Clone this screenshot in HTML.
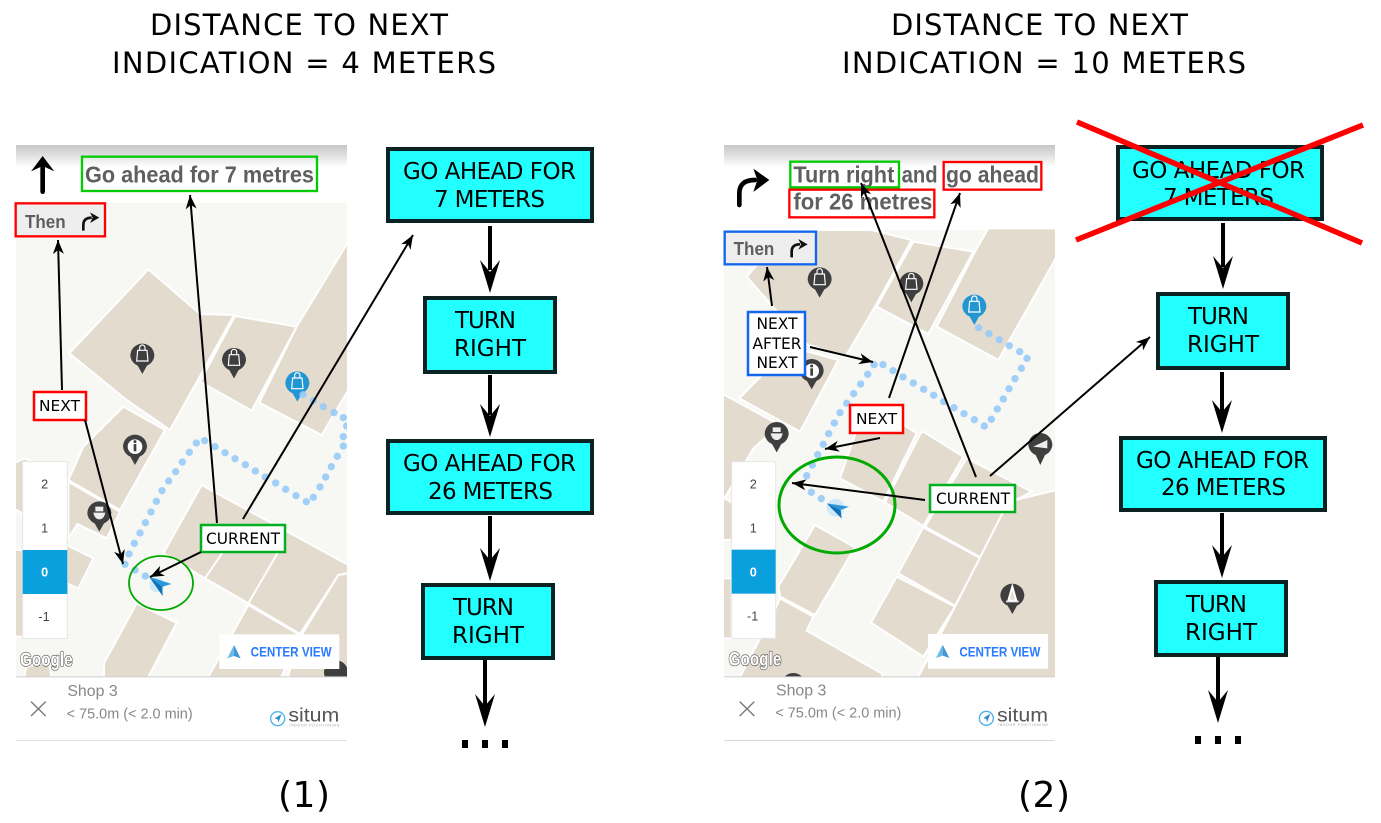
<!DOCTYPE html>
<html><head><meta charset="utf-8"><style>
html,body{margin:0;padding:0;background:#fff}
svg{display:block}
.t{font-family:"DejaVu Sans",sans-serif;fill:#000}
.r{font-family:"Liberation Sans",sans-serif}
.b{fill:#22ffff;stroke:#0a2222;stroke-width:4}
.p polygon{fill:#e3dbce;stroke:#fff;stroke-width:6}
.h{font-family:"Liberation Sans",sans-serif;font-weight:bold;fill:#5f5f5f;font-size:68px}
.d circle{r:11px;fill:#96caf7;opacity:.9}
.a{stroke:#000;stroke-width:2;fill:none;marker-end:url(#m)}
</style></head><body>
<svg width="1381" height="823" viewBox="0 0 1381 823" xmlns="http://www.w3.org/2000/svg">
<defs>
<marker id="m" markerUnits="userSpaceOnUse" markerWidth="20" markerHeight="20" refX="16" refY="10" orient="auto"><path d="M16,10 L2,4.5 L6,10 L2,15.5 Z" fill="#000"/></marker>
<linearGradient id="g" x1="0" y1="0" x2="0" y2="1"><stop offset="0" stop-color="#c6c6c6"/><stop offset="1" stop-color="#fff"/></linearGradient>
<clipPath id="c1"><rect x="16" y="145" width="331" height="532"/></clipPath>
<clipPath id="c2"><rect x="724" y="145" width="331" height="532"/></clipPath>
<g id="pinb"><path d="M-36,0 A36,36 0 1 1 36,0 A36,36 0 0 1 14,30 L0,55 L-14,30 A36,36 0 0 1 -36,0Z"/><path d="M-14,-16 H14 L17,16 H-17Z M-8,-16 V-24 A8,8 0 0 1 8,-24 V-16" fill="none" stroke="#fff" stroke-width="3.5"/></g>
<g id="pini"><path d="M-36,0 A36,36 0 1 1 36,0 A36,36 0 0 1 14,30 L0,55 L-14,30 A36,36 0 0 1 -36,0Z" fill="#3f3f3f"/><circle r="22" fill="#fff"/><rect x="-4" y="-8" width="8" height="22" fill="#3f3f3f"/><circle cy="-15" r="4.5" fill="#3f3f3f"/></g>
<g id="pint"><path d="M-36,0 A36,36 0 1 1 36,0 A36,36 0 0 1 14,30 L0,55 L-14,30 A36,36 0 0 1 -36,0Z" fill="#3f3f3f"/><path d="M-12,-20 H12 V-6 H-12Z M-18,-2 H18 Q14,18 0,18 Q-14,18 -18,-2Z" fill="#eee"/></g>
</defs>
<rect width="1381" height="823" fill="#fff"/>

<!-- titles -->
<text class="t" x="150" y="35" font-size="29" textLength="298">DISTANCE TO NEXT</text>
<text class="t" x="112" y="73" font-size="29" textLength="384">INDICATION = 4 METERS</text>
<text class="t" x="891" y="35" font-size="29" textLength="297">DISTANCE TO NEXT</text>
<text class="t" x="842" y="73" font-size="29" textLength="404">INDICATION = 10 METERS</text>
<text class="t" x="278" y="807" font-size="36" textLength="52">(1)</text>
<text class="t" x="1018" y="807" font-size="36" textLength="52">(2)</text>

<!-- LEFT PHONE -->
<rect x="16" y="145" width="331" height="596" fill="#fff"/>
<rect x="16" y="145" width="331" height="22" fill="url(#g)"/>
<rect x="16" y="203" width="331" height="474" fill="#f7f7f4"/>
<g clip-path="url(#c1)">
<g class="p" transform="translate(0,130) scale(.33333)">
<polygon points="445,418 208,670 380,810 510,900 702,555 600,552"/>
<polygon points="705,558 890,590 755,842 600,755"/>
<polygon points="1045,335 890,590 778,818 965,915 1045,780"/>
</g>
<g class="p" transform="translate(0,440) scale(.33333)">
<polygon points="370,-100 495,-30 360,210 205,120 250,20"/>
<polygon points="205,125 360,215 320,295 232,252 205,295"/>
<polygon points="200,315 280,355 235,445 200,430"/>
<polygon points="40,70 75,55 205,125 205,295 40,205"/>
<polygon points="40,330 70,330 70,590 40,590"/>
<polygon points="605,135 1045,375 1045,400 1015,405 900,582 745,490 615,415 490,340"/>
<polygon points="700,290 835,335 745,490 615,415"/>
<polygon points="745,495 900,585 840,720 620,720"/>
<polygon points="1015,405 1045,400 1045,720 860,720 905,585"/>
<polygon points="410,490 530,548 440,720 312,720 312,670"/>
<polygon points="70,720 80,680 120,670 150,680 155,720"/>
<use href="#pini" x="405" y="20"/>
<use href="#pint" x="298" y="220"/>
<circle cx="1008" cy="697" r="36" fill="#3f3f3f" stroke="none"/>
</g>
<g transform="translate(0,130) scale(.33333)">
<use href="#pinb" x="427" y="677" fill="#3f3f3f"/>
<use href="#pinb" x="702" y="690" fill="#3f3f3f"/>
<use href="#pinb" x="892" y="760" fill="#2196d3"/>
</g>
<g class="d" transform="translate(0,440) scale(.33333)">
<circle cx="375" cy="373"/><circle cx="387" cy="342"/><circle cx="403" cy="310"/><circle cx="420" cy="279"/><circle cx="436" cy="248"/><circle cx="453" cy="216"/><circle cx="469" cy="184"/><circle cx="486" cy="152"/><circle cx="506" cy="123"/><circle cx="527" cy="95"/><circle cx="547" cy="66"/><circle cx="568" cy="37"/><circle cx="589" cy="9"/><circle cx="614" cy="2"/><circle cx="645" cy="20"/><circle cx="675" cy="38"/><circle cx="705" cy="56"/><circle cx="736" cy="74"/><circle cx="766" cy="93"/><circle cx="796" cy="111"/><circle cx="827" cy="129"/><circle cx="857" cy="148"/><circle cx="888" cy="167"/><circle cx="919" cy="185"/><circle cx="940" cy="172"/><circle cx="960" cy="141"/><circle cx="977" cy="111"/><circle cx="994" cy="80"/><circle cx="1012" cy="49"/><circle cx="1030" cy="18"/><circle cx="1030" cy="-10"/><circle cx="1040" cy="-42"/><circle cx="1030" cy="-67"/><circle cx="1002" cy="-82"/><circle cx="970" cy="-100"/><circle cx="940" cy="-118"/><circle cx="909" cy="-136"/><circle cx="405" cy="390"/><circle cx="436" cy="408"/>
</g>
<g transform="translate(0,440) scale(.33333)">
<circle cx="470" cy="435" r="22" fill="#cfe9f8"/>
<polygon points="447,410 515,432 487,440" fill="#2a97dc"/>
<polygon points="447,410 487,440 488,468" fill="#1172b8"/>
</g>
</g>
<g transform="translate(0,440) scale(.33333)">
<!-- floors -->
<rect x="68" y="65" width="134" height="530" fill="#fff" stroke="#e6e6e6" stroke-width="3"/>
<rect x="68" y="330" width="134" height="132" fill="#0aa0de"/>
<g class="r" font-size="38" text-anchor="middle" fill="#444"><text x="134" y="146">2</text><text x="134" y="278">1</text><text x="134" y="410" fill="#fff" font-weight="bold">0</text><text x="132" y="543">-1</text></g>
<!-- center view -->
<rect x="658" y="583" width="360" height="104" fill="#fff"/>
<polygon points="702,615 682,655 702,648" fill="#6fb9e6"/><polygon points="702,615 722,655 702,648" fill="#3f97d6"/>
<text class="r" x="752" y="650" font-size="41" font-weight="bold" fill="#2a7bff" textLength="243" lengthAdjust="spacingAndGlyphs">CENTER VIEW</text>
<!-- google -->
<text class="r" x="60" y="678" font-size="58" font-weight="bold" fill="#fff" stroke="#555" stroke-width="4" paint-order="stroke" textLength="158" lengthAdjust="spacingAndGlyphs">Google</text>
<!-- footer -->
<rect x="48" y="709" width="992" height="3" fill="#cfcfcf"/>
<text class="r" x="202" y="768" font-size="48" fill="#888" textLength="151" lengthAdjust="spacingAndGlyphs">Shop 3</text>
<text class="r" x="200" y="835" font-size="44" fill="#888" textLength="378" lengthAdjust="spacingAndGlyphs">&lt; 75.0m (&lt; 2.0 min)</text>
<path d="M93,785 L137,828 M137,785 L93,828" stroke="#777" stroke-width="4" fill="none"/>
<circle cx="833" cy="836" r="21" fill="none" stroke="#4db3e8" stroke-width="4"/><polygon points="845,822 824,835 833,838 835,848" fill="#2b8fcf"/>
<text class="r" x="865" y="845" font-size="58" fill="#555" textLength="153" lengthAdjust="spacingAndGlyphs">situm</text>
<text class="r" x="868" y="859" font-size="10" fill="#999" textLength="150">INDOOR POSITIONING</text>
<rect x="48" y="900" width="992" height="3" fill="#e0e0e0"/>
</g>
<g transform="translate(0,130) scale(.33333)">
<path d="M128,185 V100" stroke="#000" stroke-width="14" stroke-linecap="round"/>
<polygon points="93,124 128,78 163,124 128,108" fill="#000"/>
<text class="h" x="255" y="157" textLength="687" lengthAdjust="spacingAndGlyphs">Go ahead for 7 metres</text>
<rect x="246" y="80" width="705" height="103" fill="none" stroke="#00cc00" stroke-width="7"/>
<rect x="47" y="220" width="268" height="99" fill="#eeeeee" stroke="#ff0000" stroke-width="7"/>
<text class="h" x="75" y="294" textLength="122" lengthAdjust="spacingAndGlyphs" style="font-size:56px">Then</text>
<path d="M250,302 V285 Q250,263 275,263" stroke="#111" stroke-width="8" fill="none"/>
<polygon points="270,247 298,263 270,279 278,263" fill="#111"/>
</g>
<!-- left labels -->
<rect x="34" y="392" width="52" height="28" fill="#fff" stroke="#ff0000" stroke-width="2.5"/>
<text class="t" x="39" y="411" font-size="15.5" textLength="41" lengthAdjust="spacingAndGlyphs">NEXT</text>
<rect x="201" y="525" width="84" height="27" fill="#fff" stroke="#00b020" stroke-width="2.5"/>
<text class="t" x="206" y="544" font-size="16" textLength="74" lengthAdjust="spacingAndGlyphs">CURRENT</text>
<ellipse cx="161" cy="583" rx="32" ry="27" fill="none" stroke="#00aa00" stroke-width="1.8"/>
<path class="a" d="M62,390 L58,240"/>
<path class="a" d="M85,420 L123,564"/>
<path class="a" d="M217,523 L190,195"/>
<path class="a" d="M243,519 L413,235"/>
<path class="a" d="M201,552 L150,577"/>

<!-- left flow -->
<rect class="b" x="388" y="149" width="204" height="72"/>
<text class="t" x="403" y="179" font-size="23" textLength="173">GO AHEAD FOR</text>
<text class="t" x="434" y="207" font-size="23" textLength="111">7 METERS</text>
<rect class="b" x="425" y="298" width="130" height="74"/>
<text class="t" x="455" y="328" font-size="23" textLength="61">TURN</text>
<text class="t" x="454" y="356" font-size="23" textLength="72">RIGHT</text>
<rect class="b" x="388" y="441" width="204" height="72"/>
<text class="t" x="403" y="471" font-size="23" textLength="173">GO AHEAD FOR</text>
<text class="t" x="428" y="499" font-size="23" textLength="125">26 METERS</text>
<rect class="b" x="423" y="585" width="130" height="73"/>
<text class="t" x="453" y="615" font-size="23" textLength="61">TURN</text>
<text class="t" x="452" y="643" font-size="23" textLength="72">RIGHT</text>
<g fill="#000">
<rect x="488" y="226" width="4" height="44"/><polygon points="490,293 480,260 490,272 500,260"/>
<rect x="488" y="375" width="4" height="40"/><polygon points="490,437 480,404 490,416 500,404"/>
<rect x="488" y="516" width="4" height="44"/><polygon points="490,581 480,548 490,560 500,548"/>
<rect x="483" y="660" width="4" height="46"/><polygon points="485,727 475,694 485,706 495,694"/>
<rect x="462" y="740" width="6" height="8"/><rect x="482" y="740" width="6" height="8"/><rect x="502" y="740" width="6" height="8"/>
</g>

<!-- RIGHT PHONE -->
<rect x="724" y="145" width="331" height="596" fill="#fff"/>
<rect x="724" y="145" width="331" height="22" fill="url(#g)"/>
<rect x="724" y="230" width="331" height="447" fill="#f7f7f4"/>
<g clip-path="url(#c2)">
<g class="p" transform="translate(710,130) scale(.33333)">
<polygon points="485,300 605,330 495,530 405,682 285,640 110,440 230,300"/>
<polygon points="610,335 790,365 655,612 500,530"/>
<polygon points="835,295 1040,295 1040,380 865,690 680,590 795,365"/>
<polygon points="385,690 270,905 88,805 240,650"/>
</g>
<g class="p" transform="translate(710,440) scale(.33333)">
<polygon points="35,-140 200,-50 170,-10 130,25 35,190"/>
<polygon points="440,-30 390,115 520,185 620,-20 530,-80"/>
<polygon points="632,-20 525,188 640,258 760,50 640,-25"/>
<polygon points="770,55 645,260 812,352 900,190 965,155"/>
<polygon points="640,262 565,400 735,497 812,355"/>
<polygon points="560,410 483,548 640,650 735,500"/>
<polygon points="1040,150 895,185 735,500 620,720 1040,720"/>
<polygon points="315,255 205,440 210,470 315,525 435,322"/>
<polygon points="210,475 310,530 290,572 515,700 520,720 85,720 195,510"/>
<polygon points="35,415 65,415 65,595 35,595"/>
<polygon points="35,170 70,190 70,300 35,300"/>
<use href="#pint" x="200" y="-18"/>
<circle cx="250" cy="735" r="36" fill="#3f3f3f" stroke="none"/>
<g stroke="none"><path d="M871,467 A36,36 0 1 1 943,467 A36,36 0 0 1 921,497 L907,522 L893,497 A36,36 0 0 1 871,467Z" fill="#3f3f3f"/><polygon points="907,440 895,482 919,482" fill="#eee"/><rect x="888" y="482" width="38" height="5" fill="#eee"/></g>
<g stroke="none"><path d="M955,15 A36,36 0 1 1 1027,15 A36,36 0 0 1 1005,45 L991,75 L977,45 A36,36 0 0 1 955,15Z" fill="#3f3f3f"/><path d="M970,20 L1012,0 L1012,25 Z" fill="#eee"/></g>
</g>
<g transform="translate(710,130) scale(.33333)">
<use href="#pinb" x="329" y="448" fill="#3f3f3f"/>
<use href="#pinb" x="604" y="462" fill="#3f3f3f"/>
<use href="#pinb" x="793" y="530" fill="#2196d3"/>
<use href="#pini" x="305" y="723"/>
</g>
<g class="d" transform="translate(710,130) scale(.33333)">
<circle cx="806" cy="593"/><circle cx="837" cy="611"/><circle cx="868" cy="629"/><circle cx="898" cy="647"/><circle cx="929" cy="665"/><circle cx="951" cy="685"/><circle cx="934" cy="715"/><circle cx="915" cy="746"/><circle cx="897" cy="776"/><circle cx="880" cy="807"/><circle cx="862" cy="837"/><circle cx="844" cy="868"/><circle cx="823" cy="888"/><circle cx="793" cy="869"/><circle cx="762" cy="851"/><circle cx="732" cy="833"/><circle cx="701" cy="815"/><circle cx="671" cy="796"/><circle cx="641" cy="778"/><circle cx="610" cy="759"/><circle cx="579" cy="741"/><circle cx="549" cy="722"/><circle cx="519" cy="704"/><circle cx="492" cy="704"/><circle cx="473" cy="733"/><circle cx="452" cy="762"/><circle cx="431" cy="791"/><circle cx="410" cy="820"/><circle cx="390" cy="848"/><circle cx="373" cy="879"/><circle cx="356" cy="911"/><circle cx="340" cy="943"/><circle cx="323" cy="974"/><circle cx="307" cy="1005"/><circle cx="290" cy="1037"/><circle cx="304" cy="1087"/><circle cx="334" cy="1106"/>
</g>
<g transform="translate(710,440) scale(.33333)">
<circle cx="377" cy="203" r="27" fill="#cfe9f8"/>
<polygon points="350,190 417,200 392,210" fill="#2a97dc"/>
<polygon points="350,190 392,210 395,236" fill="#1172b8"/>
</g>
</g>
<g transform="translate(710,440) scale(.33333)">
<rect x="65" y="65" width="132" height="530" fill="#fff" stroke="#e6e6e6" stroke-width="3"/>
<rect x="65" y="329" width="132" height="132" fill="#0aa0de"/>
<g class="r" font-size="38" text-anchor="middle" fill="#444"><text x="130" y="145">2</text><text x="130" y="277">1</text><text x="130" y="409" fill="#fff" font-weight="bold">0</text><text x="128" y="542">-1</text></g>
<rect x="654" y="582" width="360" height="104" fill="#fff"/>
<polygon points="698,614 678,654 698,647" fill="#6fb9e6"/><polygon points="698,614 718,654 698,647" fill="#3f97d6"/>
<text class="r" x="748" y="649" font-size="41" font-weight="bold" fill="#2a7bff" textLength="243" lengthAdjust="spacingAndGlyphs">CENTER VIEW</text>
<text class="r" x="56" y="677" font-size="58" font-weight="bold" fill="#fff" stroke="#555" stroke-width="4" paint-order="stroke" textLength="158" lengthAdjust="spacingAndGlyphs">Google</text>
<rect x="42" y="709" width="992" height="3" fill="#cfcfcf"/>
<text class="r" x="198" y="766" font-size="48" fill="#888" textLength="151" lengthAdjust="spacingAndGlyphs">Shop 3</text>
<text class="r" x="196" y="833" font-size="44" fill="#888" textLength="378" lengthAdjust="spacingAndGlyphs">&lt; 75.0m (&lt; 2.0 min)</text>
<path d="M89,785 L133,828 M133,785 L89,828" stroke="#777" stroke-width="4" fill="none"/>
<circle cx="829" cy="835" r="21" fill="none" stroke="#4db3e8" stroke-width="4"/><polygon points="841,821 820,834 829,837 831,847" fill="#2b8fcf"/>
<text class="r" x="861" y="844" font-size="58" fill="#555" textLength="153" lengthAdjust="spacingAndGlyphs">situm</text>
<text class="r" x="864" y="858" font-size="10" fill="#999" textLength="150">INDOOR POSITIONING</text>
<rect x="42" y="900" width="992" height="3" fill="#d8d8d8"/>
</g>
<g transform="translate(710,130) scale(.33333)">
<path d="M88,225 V190 Q88,150 135,150" stroke="#000" stroke-width="14" fill="none" stroke-linecap="round"/>
<polygon points="130,116 178,150 130,186 142,150" fill="#000"/>
<text class="h" x="250" y="157" textLength="303" lengthAdjust="spacingAndGlyphs">Turn right</text>
<text class="h" x="575" y="157" textLength="108" lengthAdjust="spacingAndGlyphs">and</text>
<text class="h" x="708" y="157" textLength="279" lengthAdjust="spacingAndGlyphs">go ahead</text>
<text class="h" x="250" y="238" textLength="417" lengthAdjust="spacingAndGlyphs">for 26 metres</text>
<rect x="241" y="95" width="326" height="77" fill="none" stroke="#00cc00" stroke-width="7"/>
<rect x="701" y="96" width="293" height="83" fill="none" stroke="#ff0000" stroke-width="7"/>
<rect x="238" y="179" width="435" height="83" fill="none" stroke="#ff0000" stroke-width="7"/>
<rect x="44" y="305" width="274" height="98" fill="#eeeeee" stroke="#1166ee" stroke-width="7"/>
<text class="h" x="71" y="375" textLength="122" lengthAdjust="spacingAndGlyphs" style="font-size:56px">Then</text>
<path d="M245,382 V365 Q245,343 270,343" stroke="#111" stroke-width="8" fill="none"/>
<polygon points="265,327 293,343 265,359 273,343" fill="#111"/>
</g>
<!-- right labels -->
<rect x="748" y="312" width="57" height="63" fill="#fff" stroke="#1166ee" stroke-width="2.5"/>
<g class="t" font-size="16" text-anchor="middle"><text x="777" y="329" textLength="41" lengthAdjust="spacingAndGlyphs">NEXT</text><text x="777" y="349" textLength="49" lengthAdjust="spacingAndGlyphs">AFTER</text><text x="777" y="368" textLength="41" lengthAdjust="spacingAndGlyphs">NEXT</text></g>
<rect x="850" y="405" width="53" height="28" fill="#fff" stroke="#ff0000" stroke-width="2.5"/>
<text class="t" x="856" y="424" font-size="15.5" textLength="41" lengthAdjust="spacingAndGlyphs">NEXT</text>
<rect x="930" y="485" width="85" height="27" fill="#fff" stroke="#00b020" stroke-width="2.5"/>
<text class="t" x="936" y="504" font-size="16" textLength="74" lengthAdjust="spacingAndGlyphs">CURRENT</text>
<ellipse cx="837" cy="505" rx="58" ry="48" fill="none" stroke="#00aa00" stroke-width="3"/>
<path class="a" d="M772,306 L767,267"/>
<path class="a" d="M810,347 L873,362"/>
<path class="a" d="M889,398 L960,193"/>
<path class="a" d="M880,438 L825,449"/>
<path class="a" d="M976,477 L861,183"/>
<path class="a" d="M990,476 L1150,337"/>
<path class="a" d="M925,500 L792,483"/>

<!-- right flow -->
<rect class="b" x="1118" y="147" width="204" height="72"/>
<text class="t" x="1132" y="178" font-size="23" textLength="173">GO AHEAD FOR</text>
<text class="t" x="1163" y="205" font-size="23" textLength="111">7 METERS</text>
<rect class="b" x="1158" y="294" width="130" height="74"/>
<text class="t" x="1188" y="324" font-size="23" textLength="61">TURN</text>
<text class="t" x="1187" y="352" font-size="23" textLength="72">RIGHT</text>
<rect class="b" x="1121" y="438" width="204" height="72"/>
<text class="t" x="1136" y="468" font-size="23" textLength="173">GO AHEAD FOR</text>
<text class="t" x="1161" y="495" font-size="23" textLength="125">26 METERS</text>
<rect class="b" x="1156" y="582" width="130" height="73"/>
<text class="t" x="1186" y="612" font-size="23" textLength="61">TURN</text>
<text class="t" x="1185" y="640" font-size="23" textLength="72">RIGHT</text>
<g fill="#000">
<rect x="1221" y="223" width="4" height="44"/><polygon points="1223,289 1213,256 1223,268 1233,256"/>
<rect x="1220" y="372" width="4" height="40"/><polygon points="1222,433 1212,400 1222,412 1232,400"/>
<rect x="1220" y="513" width="4" height="44"/><polygon points="1222,578 1212,545 1222,557 1232,545"/>
<rect x="1216" y="657" width="4" height="46"/><polygon points="1218,723 1208,690 1218,702 1228,690"/>
<rect x="1195" y="736" width="6" height="8"/><rect x="1215" y="736" width="6" height="8"/><rect x="1235" y="736" width="6" height="8"/>
</g>
<path d="M1077,122 L1362,243 M1076,240 L1363,125" stroke="#ff0000" stroke-width="5.5" fill="none"/>
</svg>
</body></html>
